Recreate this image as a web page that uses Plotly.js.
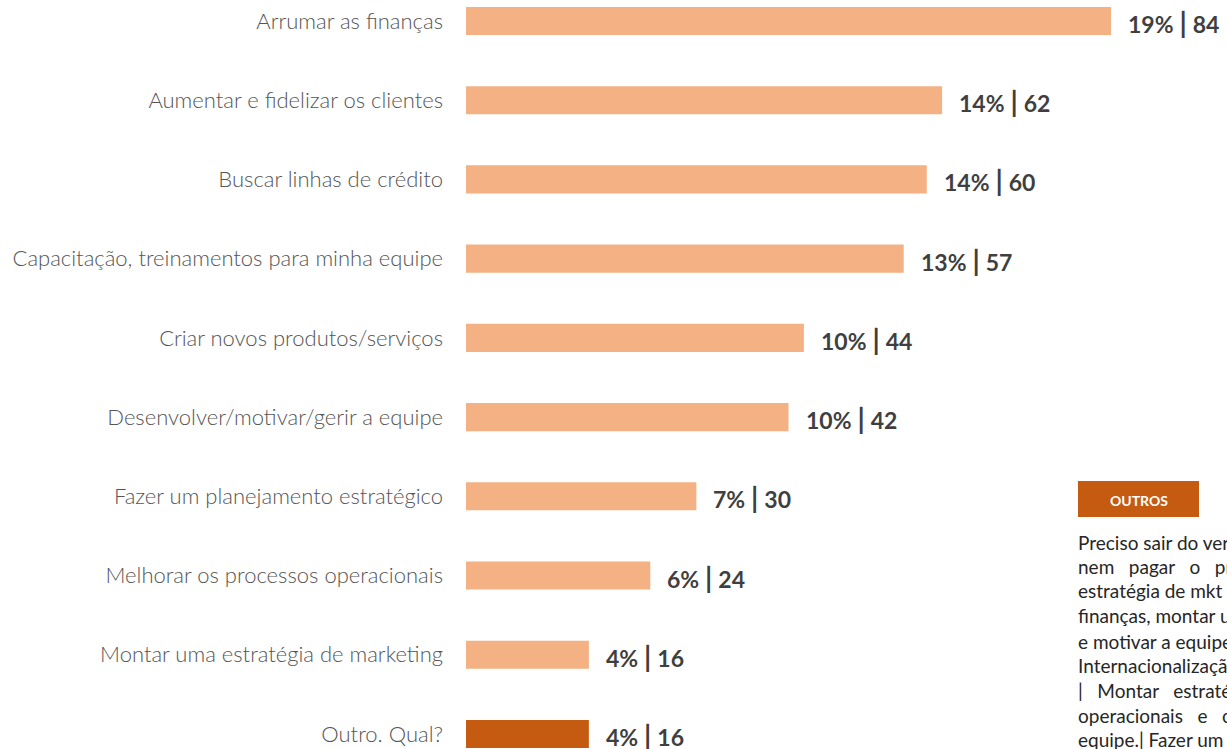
<!DOCTYPE html>
<html><head><meta charset="utf-8">
<script src="https://cdn.plot.ly/plotly-3.0.1.min.js"></script>
<style>html,body{margin:0;padding:0;background:#fff;overflow:hidden}#c{width:1227px;height:749px}</style>
</head><body><div id="c"></div>
<script>
const categories = ["Arrumar as finanças","Aumentar e fidelizar os clientes","Buscar linhas de crédito","Capacitação, treinamentos para minha equipe","Criar novos produtos/serviços","Desenvolver/motivar/gerir a equipe","Fazer um planejamento estratégico","Melhorar os processos operacionais","Montar uma estratégia de marketing","Outro. Qual?"];
const counts = [84,62,60,57,44,42,30,24,16,16];
const percents = [19,14,14,13,10,10,7,6,4,4];
const barColors = ["#F4B183","#F4B183","#F4B183","#F4B183","#F4B183","#F4B183","#F4B183","#F4B183","#F4B183","#C55A11"];
const outrosTitle = "OUTROS";
const outrosLines = ["Preciso sair do vermelho,","nem   pagar   o   próprio","estratégia de mkt digital","finanças, montar uma","e motivar a equipe |","Internacionalização","|   Montar   estratégia","operacionais   e   o","equipe.| Fazer um"];

const W=1227,H=749,L=466;
const px=x=>(x-L)/(W-L);
const py=y=>1-y/H;

const ann = categories.map((c,i)=>({
  x:counts[i], y:c, xref:'x', yref:'y', xanchor:'left', yanchor:'middle',
  xshift:15, yshift:-1, showarrow:false,
  text:'<b>'+percents[i]+'%</b> <b><span style="font-size:28px">|</span></b> <b>'+counts[i]+'</b>',
  font:{family:'Lato',size:23,color:'#3f3f3f'}
}));
ann.push({xref:'paper',yref:'paper',x:px(1138.5),y:py(500),xanchor:'center',yanchor:'middle',showarrow:false,
  text:'<b>'+outrosTitle+'</b>',font:{family:'Lato',size:14,color:'#ffffff'}});
const lineY=[542,566,590,615,641,665,690,715,739];
outrosLines.forEach((t,i)=>ann.push({xref:'paper',yref:'paper',x:px(1076),y:py(lineY[i]),xanchor:'left',yanchor:'middle',showarrow:false,
  text:t.replace(/   /g,'\u00a0\u00a0\u00a0'),font:{family:'Lato',size:19,color:'#262626'}}));

Plotly.newPlot('c',[{
  type:'bar',orientation:'h',x:counts,y:categories,
  marker:{color:barColors},width:0.355,hoverinfo:'none'
}],{
  width:W,height:H,margin:{l:L,r:0,t:0,b:0},
  paper_bgcolor:'#fff',plot_bgcolor:'#fff',showlegend:false,
  xaxis:{range:[0,99.1],visible:false,fixedrange:true},
  yaxis:{type:'category',range:[9.19,-0.265],showgrid:false,zeroline:false,showline:false,
    ticks:'',ticklabelstandoff:22,tickfont:{family:'Lato',size:22,color:'#555555',weight:300},automargin:false},
  shapes:[{type:'rect',xref:'paper',yref:'paper',x0:px(1078),x1:px(1199),y0:py(517),y1:py(481),fillcolor:'#C55A11',line:{width:0}}],
  annotations:ann
},{displayModeBar:false,staticPlot:true});
</script></body></html>
